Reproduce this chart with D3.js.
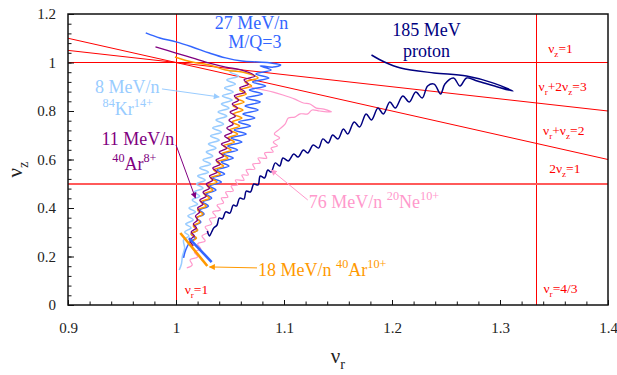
<!DOCTYPE html>
<html>
<head>
<meta charset="utf-8">
<script src="https://cdn.jsdelivr.net/npm/d3@7"></script>
<style>
  body { margin: 0; background: #fff; }
  svg text { font-family: "Liberation Serif", "Times New Roman", serif; }
</style>
</head>
<body>
<div id="chart"></div>
<script>
const RED = "#ff0000";
const BLUE = "#3366ff";
const LIGHT_BLUE = "#99ccff";
const PURPLE = "#800080";
const ORANGE = "#ff9900";
const PINK = "#ff99cc";
const NAVY = "#000080";

const WIDTH = 617;
const HEIGHT = 375;
const margin = { top: 14, right: 9, bottom: 70, left: 68 };

const xTicks = [0.9, 1, 1.1, 1.2, 1.3, 1.4];
const yTicks = [0, 0.2, 0.4, 0.6, 0.8, 1, 1.2];

// resonance lines  a*vr + b*vz = c
const resonances = [
  { a: 1, b: 0, c: 1 },
  { a: 3, b: 0, c: 4 },
  { a: 0, b: 1, c: 1 },
  { a: 0, b: 2, c: 1 },
  { a: 1, b: 2, c: 3 },
  { a: 1, b: 1, c: 2 },
];

// tune trajectories [vr, vz]
const proton185 = [
  [1.181, 1.031], [1.193, 1.002], [1.208, 0.977], [1.239, 0.957], [1.269, 0.944], [1.294, 0.915],
  [1.312, 0.882], [1.295, 0.903], [1.279, 0.924], [1.269, 0.936], [1.263, 0.903], [1.257, 0.936],
  [1.249, 0.911], [1.245, 0.870], [1.239, 0.911], [1.233, 0.903], [1.228, 0.854], [1.222, 0.878],
  [1.216, 0.837], [1.210, 0.862], [1.203, 0.812], [1.198, 0.837], [1.192, 0.788], [1.187, 0.812],
  [1.181, 0.763], [1.176, 0.788], [1.170, 0.734], [1.165, 0.755], [1.159, 0.705], [1.155, 0.726],
  [1.150, 0.685], [1.145, 0.701], [1.141, 0.668], [1.136, 0.685], [1.132, 0.647], [1.127, 0.660],
  [1.122, 0.627], [1.118, 0.639], [1.113, 0.610], [1.109, 0.623], [1.104, 0.594], [1.099, 0.606],
  [1.096, 0.573], [1.092, 0.586], [1.088, 0.548], [1.085, 0.557], [1.082, 0.524], [1.078, 0.532],
  [1.076, 0.495], [1.072, 0.499], [1.069, 0.466], [1.065, 0.470], [1.063, 0.437], [1.059, 0.441],
  [1.056, 0.408], [1.053, 0.412], [1.050, 0.379], [1.046, 0.384], [1.043, 0.355], [1.040, 0.359],
  [1.038, 0.330], [1.035, 0.318], [1.033, 0.301], [1.031, 0.285], [1.029, 0.305],
];

const ne76 = [
  [1.064, 0.907], [1.072, 0.895], [1.081, 0.887], [1.090, 0.878], [1.099, 0.866], [1.110, 0.849],
  [1.118, 0.833], [1.124, 0.829], [1.130, 0.812], [1.137, 0.808], [1.144, 0.796], [1.133, 0.800],
  [1.126, 0.804], [1.122, 0.788], [1.115, 0.788], [1.110, 0.775], [1.104, 0.771], [1.101, 0.746],
  [1.095, 0.722], [1.091, 0.705], [1.096, 0.689], [1.090, 0.672], [1.094, 0.656], [1.088, 0.647],
  [1.090, 0.631], [1.082, 0.627], [1.084, 0.606], [1.076, 0.606], [1.078, 0.586], [1.071, 0.581],
  [1.073, 0.561], [1.065, 0.557], [1.067, 0.536], [1.061, 0.536], [1.063, 0.515], [1.055, 0.515],
  [1.057, 0.495], [1.051, 0.491], [1.053, 0.470], [1.046, 0.466], [1.048, 0.445], [1.042, 0.441],
  [1.044, 0.421], [1.038, 0.412], [1.041, 0.392], [1.034, 0.384], [1.037, 0.363], [1.031, 0.355],
  [1.033, 0.334], [1.027, 0.322], [1.030, 0.301], [1.024, 0.285], [1.027, 0.264], [1.020, 0.252],
  [1.023, 0.231], [1.017, 0.219], [1.020, 0.198], [1.013, 0.186], [1.015, 0.165], [1.010, 0.153],
];

const mq3_27 = [
  [0.972, 1.122], [0.985, 1.101], [1.000, 1.085], [1.015, 1.064], [1.031, 1.039], [1.046, 1.019],
  [1.061, 1.006], [1.076, 1.002], [1.088, 0.998], [1.097, 0.990], [1.090, 0.981], [1.078, 0.986],
  [1.088, 0.969], [1.074, 0.953], [1.086, 0.936], [1.071, 0.920], [1.083, 0.903], [1.068, 0.887],
  [1.080, 0.870], [1.065, 0.854], [1.078, 0.837], [1.064, 0.821], [1.076, 0.804], [1.062, 0.788],
  [1.073, 0.771], [1.058, 0.755], [1.069, 0.738], [1.054, 0.722], [1.065, 0.705], [1.051, 0.689],
  [1.061, 0.672], [1.048, 0.656], [1.057, 0.639], [1.044, 0.623], [1.053, 0.606], [1.042, 0.590],
  [1.049, 0.573], [1.038, 0.557], [1.045, 0.540], [1.034, 0.524], [1.042, 0.507], [1.031, 0.491],
  [1.037, 0.474], [1.028, 0.458], [1.033, 0.441], [1.025, 0.425], [1.030, 0.408], [1.022, 0.392],
  [1.026, 0.375], [1.019, 0.359], [1.023, 0.342], [1.017, 0.326], [1.020, 0.309], [1.014, 0.293],
  [1.018, 0.276], [1.013, 0.260], [1.009, 0.227], [1.007, 0.194],
];
const mq3_27Start = [[1.012, 0.276], [1.033, 0.177]];

const kr8 = [
  [1.056, 0.969], [1.050, 0.961], [1.058, 0.944], [1.047, 0.928], [1.055, 0.911], [1.045, 0.895],
  [1.053, 0.878], [1.043, 0.862], [1.052, 0.845], [1.042, 0.829], [1.049, 0.812], [1.039, 0.796],
  [1.047, 0.779], [1.037, 0.763], [1.044, 0.746], [1.034, 0.730], [1.042, 0.713], [1.032, 0.697],
  [1.040, 0.680], [1.030, 0.664], [1.037, 0.647], [1.028, 0.631], [1.034, 0.614], [1.025, 0.598],
  [1.032, 0.581], [1.022, 0.565], [1.030, 0.548], [1.020, 0.532], [1.027, 0.515], [1.019, 0.499],
  [1.025, 0.482], [1.017, 0.466], [1.022, 0.449], [1.015, 0.433], [1.020, 0.416], [1.012, 0.400],
  [1.018, 0.384], [1.011, 0.367], [1.016, 0.351], [1.009, 0.334], [1.014, 0.318], [1.008, 0.301],
  [1.012, 0.285], [1.007, 0.268], [1.008, 0.235], [1.006, 0.202], [1.005, 0.169], [1.003, 0.144],
];

const ar11 = [
  [0.981, 1.064], [1.000, 1.039], [1.015, 1.019], [1.031, 0.997], [1.046, 0.981], [1.061, 0.969],
  [1.073, 0.944], [1.063, 0.928], [1.067, 0.911], [1.059, 0.895], [1.064, 0.878], [1.054, 0.862],
  [1.058, 0.845], [1.052, 0.829], [1.057, 0.812], [1.050, 0.796], [1.055, 0.779], [1.049, 0.763],
  [1.053, 0.746], [1.047, 0.730], [1.052, 0.713], [1.045, 0.697], [1.050, 0.680], [1.042, 0.664],
  [1.047, 0.647], [1.040, 0.631], [1.044, 0.614], [1.037, 0.598], [1.041, 0.581], [1.034, 0.565],
  [1.038, 0.548], [1.031, 0.532], [1.034, 0.515], [1.028, 0.499], [1.031, 0.482], [1.025, 0.466],
  [1.028, 0.449], [1.022, 0.433], [1.025, 0.416], [1.020, 0.400], [1.022, 0.384], [1.018, 0.367],
  [1.020, 0.351], [1.016, 0.334], [1.019, 0.318], [1.014, 0.301], [1.017, 0.285], [1.013, 0.268],
  [1.016, 0.243],
];

const ar18 = [
  [0.999, 1.023], [1.015, 1.002], [1.031, 0.990], [1.046, 0.969], [1.065, 0.957], [1.076, 0.936],
  [1.064, 0.920], [1.070, 0.903], [1.059, 0.887], [1.065, 0.870], [1.055, 0.854], [1.063, 0.837],
  [1.053, 0.821], [1.062, 0.804], [1.053, 0.788], [1.061, 0.771], [1.052, 0.755], [1.059, 0.738],
  [1.050, 0.722], [1.057, 0.705], [1.048, 0.689], [1.054, 0.672], [1.044, 0.656], [1.051, 0.639],
  [1.042, 0.623], [1.048, 0.606], [1.038, 0.590], [1.044, 0.573], [1.035, 0.557], [1.041, 0.540],
  [1.032, 0.524], [1.038, 0.507], [1.029, 0.491], [1.034, 0.474], [1.026, 0.458], [1.031, 0.441],
  [1.023, 0.425], [1.028, 0.408], [1.020, 0.392], [1.025, 0.375], [1.019, 0.359], [1.022, 0.342],
  [1.016, 0.326], [1.020, 0.309], [1.014, 0.293], [1.019, 0.276], [1.013, 0.260],
];
const ar18Start = [[1.004, 0.297], [1.029, 0.161]];

// labels: text uses _{..} for subscript and ^{..} for superscript
const curveLabels = [
  { text: "27 MeV/n", at: [1.070, 1.138], anchor: "middle", color: BLUE },
  { text: "M/Q=3", at: [1.073, 1.060], anchor: "middle", color: BLUE },
  { text: "185 MeV", at: [1.232, 1.109], anchor: "middle", color: NAVY },
  { text: "proton", at: [1.232, 1.023], anchor: "middle", color: NAVY },
  { text: "8 MeV/n", at: [0.925, 0.874], anchor: "start", color: LIGHT_BLUE },
  { text: "^{84}Kr^{14+}", at: [0.932, 0.784], anchor: "start", color: LIGHT_BLUE },
  { text: "11 MeV/n", at: [0.931, 0.660], anchor: "start", color: PURPLE },
  { text: "^{40}Ar^{8+}", at: [0.941, 0.557], anchor: "start", color: PURPLE },
  { text: "76 MeV/n ^{20}Ne^{10+}", at: [1.123, 0.400], anchor: "start", color: PINK },
  { text: "18 MeV/n ^{40}Ar^{10+}", at: [1.076, 0.120], anchor: "start", color: ORANGE },
];

const resonanceLabels = [
  { text: "ν_{z}=1", at: [1.356, 1.039], anchor: "middle" },
  { text: "ν_{r}+2ν_{z}=3", at: [1.358, 0.882], anchor: "middle" },
  { text: "ν_{r}+ν_{z}=2", at: [1.359, 0.701], anchor: "middle" },
  { text: "2ν_{z}=1", at: [1.360, 0.544], anchor: "middle" },
  { text: "ν_{r}=4/3", at: [1.356, 0.049], anchor: "middle" },
  { text: "ν_{r}=1", at: [1.008, 0.045], anchor: "start" },
];

const pointers = [
  { from: [0.987, 0.891], to: [1.040, 0.858], color: LIGHT_BLUE, id: "lb" },
  { from: [1.000, 0.660], to: [1.018, 0.441], color: PURPLE, id: "pu" },
  { from: [1.122, 0.433], to: [1.088, 0.557], color: PINK, id: "pk" },
  { from: [1.075, 0.153], to: [1.031, 0.157], color: ORANGE, id: "or" },
];

////////////////////////////////////////////////////////////////////////////////////

const plotW = WIDTH - margin.left - margin.right;
const plotH = HEIGHT - margin.top - margin.bottom;

const x = d3.scaleLinear().domain([0.9, 1.4]).range([0, plotW]);
const y = d3.scaleLinear().domain([0, 1.2]).range([plotH, 0]);

const svg = d3.select("#chart").append("svg").attr("width", WIDTH).attr("height", HEIGHT);
const defs = svg.append("defs");
defs.append("clipPath").attr("id", "plot-clip")
  .append("rect").attr("width", plotW).attr("height", plotH);

pointers.forEach((p) => {
  defs.append("marker")
    .attr("id", "arrow-" + p.id)
    .attr("viewBox", "0 0 10 10")
    .attr("refX", 9).attr("refY", 5)
    .attr("markerUnits", "userSpaceOnUse")
    .attr("markerWidth", 7).attr("markerHeight", 6)
    .attr("orient", "auto")
    .append("path").attr("d", "M0,0L10,5L0,10z").attr("fill", p.color);
});

const g = svg.append("g").attr("transform", `translate(${margin.left},${margin.top})`);
const plot = g.append("g").attr("clip-path", "url(#plot-clip)");

// resonance lines
resonances.forEach((r) => {
  let pts;
  if (r.b === 0) {
    pts = [[r.c / r.a, 0], [r.c / r.a, 1.2]];
  } else {
    pts = x.domain().map((vr) => [vr, (r.c - r.a * vr) / r.b]);
  }
  const halfLine = r.a === 0 && r.b === 2;
  const axisAligned = r.a === 0 || r.b === 0;
  plot.append("line")
    .attr("x1", x(pts[0][0])).attr("y1", y(pts[0][1]))
    .attr("x2", x(pts[1][0])).attr("y2", y(pts[1][1]))
    .style("stroke", halfLine ? "#ff5a5a" : RED)
    .style("stroke-width", halfLine ? 2 : 1)
    .style("shape-rendering", axisAligned ? "crispEdges" : "auto");
});

const line = d3.line().x((d) => x(d[0])).y((d) => y(d[1])).curve(d3.curveCatmullRom.alpha(0.5));
const straight = d3.line().x((d) => x(d[0])).y((d) => y(d[1]));

const series = [
  { data: ne76, color: PINK, width: 1.2, path: line },
  { data: proton185, color: NAVY, width: 1.5, path: line },
  { data: kr8, color: LIGHT_BLUE, width: 1.5, path: line },
  { data: mq3_27, color: BLUE, width: 1.5, path: line },
  { data: ar18, color: ORANGE, width: 1.5, path: line },
  { data: ar11, color: PURPLE, width: 1.3, path: line },
  { data: ar18Start, color: ORANGE, width: 2.6, path: straight },
  { data: mq3_27Start, color: BLUE, width: 2.6, path: straight },
];

plot.selectAll("path.traj")
  .data(series)
  .enter()
  .append("path")
  .attr("class", "traj")
  .attr("d", (d) => d.path(d.data))
  .attr("fill", "none")
  .style("stroke", (d) => d.color)
  .style("stroke-width", (d) => d.width)
  .style("stroke-linejoin", "round");

// pointer arrows
g.selectAll("line.pointer")
  .data(pointers)
  .enter()
  .append("line")
  .attr("class", "pointer")
  .attr("x1", (d) => x(d.from[0])).attr("y1", (d) => y(d.from[1]))
  .attr("x2", (d) => x(d.to[0])).attr("y2", (d) => y(d.to[1]))
  .style("stroke", (d) => d.color)
  .style("stroke-width", 1)
  .attr("marker-end", (d) => `url(#arrow-${d.id})`);

////////////////////////////////////////////////////////////////////////////////////

function richText(parent, str, px, py, size, anchor, color) {
  const t = parent.append("text")
    .attr("x", px).attr("y", py)
    .attr("text-anchor", anchor)
    .attr("font-size", size + "px")
    .attr("fill", color);
  const re = /([_^])\{([^}]*)\}/g;
  let last = 0;
  let shift = 0;
  let m;
  const parts = [];
  while ((m = re.exec(str)) !== null) {
    if (m.index > last) parts.push({ t: str.slice(last, m.index), off: 0 });
    parts.push({ t: m[2], off: m[1] === "_" ? 0.28 : -0.42 });
    last = re.lastIndex;
  }
  if (last < str.length) parts.push({ t: str.slice(last), off: 0 });
  parts.forEach((p) => {
    const ts = t.append("tspan").text(p.t);
    const dy = (p.off - shift) * size;
    if (dy !== 0) ts.attr("dy", dy);
    if (p.off !== 0) ts.attr("font-size", size * 0.68 + "px");
    shift = p.off;
  });
  return t;
}

curveLabels.forEach((l) => richText(g, l.text, x(l.at[0]), y(l.at[1]), 18, l.anchor, l.color));
resonanceLabels.forEach((l) => richText(g, l.text, x(l.at[0]), y(l.at[1]), 13.5, l.anchor, RED));

////////////////////////////////////////////////////////////////////////////////////

const fmt = (d) => (d === 0 || d === 1 ? String(d) : d.toFixed(1));

const xMinor = d3.range(0.9, 1.4001, 0.02);
const yMinor = d3.range(0, 1.2001, 0.04);

const xAxisMinor = g.append("g").attr("transform", `translate(0,${plotH})`)
  .call(d3.axisBottom(x).tickValues(xMinor).tickSize(-3.5).tickFormat(""));
const xAxis = g.append("g").attr("transform", `translate(0,${plotH})`)
  .call(d3.axisBottom(x).tickValues(xTicks).tickSize(-5).tickPadding(17).tickFormat(fmt));
const yAxisMinor = g.append("g")
  .call(d3.axisLeft(y).tickValues(yMinor).tickSize(-3.5).tickFormat(""));
const yAxis = g.append("g")
  .call(d3.axisLeft(y).tickValues(yTicks).tickSize(-6).tickPadding(12).tickFormat(fmt));

[xAxisMinor, xAxis, yAxisMinor, yAxis].forEach((a) => {
  a.select(".domain").remove();
  a.selectAll(".tick line").style("stroke", "#111").style("stroke-width", 1);
  a.selectAll(".tick text")
    .style("font-family", "'Liberation Serif', serif")
    .style("font-size", "15px")
    .style("fill", "#222");
});

g.append("rect")
  .attr("width", plotW).attr("height", plotH)
  .attr("fill", "none")
  .style("stroke", "#111")
  .style("stroke-width", 1.5);

richText(g, "ν_{r}", plotW / 2, plotH + 58, 21, "middle", "#222");
richText(g.append("g").attr("transform", `translate(${-46},${plotH / 2 + 10}) rotate(-90)`),
  "ν_{z}", 0, 0, 21, "middle", "#222");
</script>
</body>
</html>
